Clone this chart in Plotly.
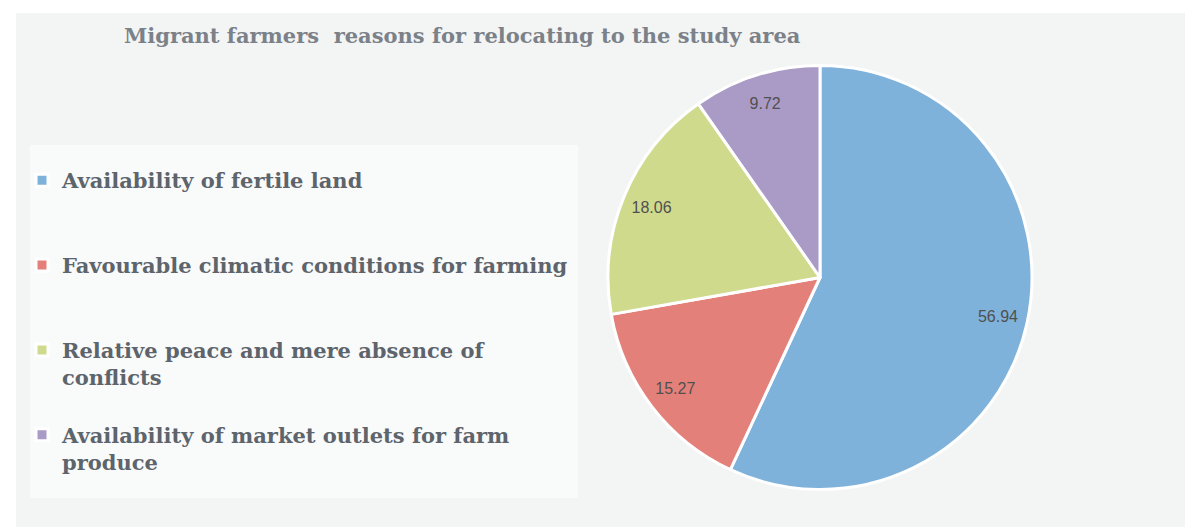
import plotly.graph_objects as go

title_text = "Migrant farmers  reasons for relocating to the study area"
categories = [
    "Availability of fertile land",
    "Favourable climatic conditions for farming",
    "Relative peace and mere absence of<br>conflicts",
    "Availability of market outlets for farm<br>produce",
]
values = [56.94, 15.27, 18.06, 9.72]
colors = ["#7fb2da", "#e4807a", "#cfda8c", "#a99ac6"]

W, H = 1185, 527

def px_x(p):
    return p / W

def px_y(p):
    return 1 - p / H

# pad each legend entry to the same number of lines so entries are evenly spaced
slot_lines = 3
legend_labels = []
for i, c in enumerate(categories):
    n = c.count("<br>") + 1
    pad = max(0, slot_lines - n) if i < len(categories) - 1 else 0
    legend_labels.append(c + "<br> " * pad)

pie_domain = dict(x=[px_x(608), px_x(1032)], y=[px_y(490), px_y(65)])

fig = go.Figure()
# main pie (slices + legend)
fig.add_trace(go.Pie(
    labels=legend_labels,
    values=values,
    sort=False,
    direction="clockwise",
    rotation=0,
    marker=dict(colors=colors, line=dict(color="white", width=3)),
    textinfo="none",
    domain=pie_domain,
    showlegend=True,
    hoverinfo="label+value",
))
# transparent ring on top, only to carry the data labels toward the rim
fig.add_trace(go.Pie(
    labels=legend_labels,
    values=values,
    sort=False,
    direction="clockwise",
    rotation=0,
    hole=0.72,
    marker=dict(colors=["rgba(0,0,0,0)"] * len(values), line=dict(width=0)),
    textinfo="value",
    textposition="inside",
    insidetextorientation="horizontal",
    texttemplate="%{value:.2f}",
    textfont=dict(family="Liberation Sans", size=16, color="#505050"),
    domain=pie_domain,
    showlegend=False,
    hoverinfo="skip",
))

fig.update_layout(
    width=W, height=H,
    margin=dict(l=0, r=0, t=0, b=0),
    paper_bgcolor="white",
    plot_bgcolor="white",
    title=dict(
        text="<b>" + title_text + "</b>",
        x=px_x(124), xanchor="left",
        y=px_y(36), yanchor="middle",
        font=dict(family="DejaVu Serif", size=21, color="#7b8189"),
    ),
    legend=dict(
        x=px_x(22), xanchor="left",
        y=px_y(160), yanchor="top",
        bgcolor="rgba(0,0,0,0)",
        valign="top",
        font=dict(family="DejaVu Serif", size=21, color="#5d646b", weight="bold"),
        traceorder="normal",
    ),
    shapes=[
        dict(type="rect", xref="paper", yref="paper",
             x0=px_x(16), x1=1, y0=0, y1=px_y(13),
             fillcolor="#f3f4f4", line=dict(width=0), layer="below"),
        dict(type="rect", xref="paper", yref="paper",
             x0=px_x(30), x1=px_x(578), y0=px_y(498), y1=px_y(145),
             fillcolor="#f9fafa", line=dict(width=0), layer="below"),
    ],
)

fig.write_html("out.html", config={"displayModeBar": False},
               post_script="document.body.style.margin='0';")
